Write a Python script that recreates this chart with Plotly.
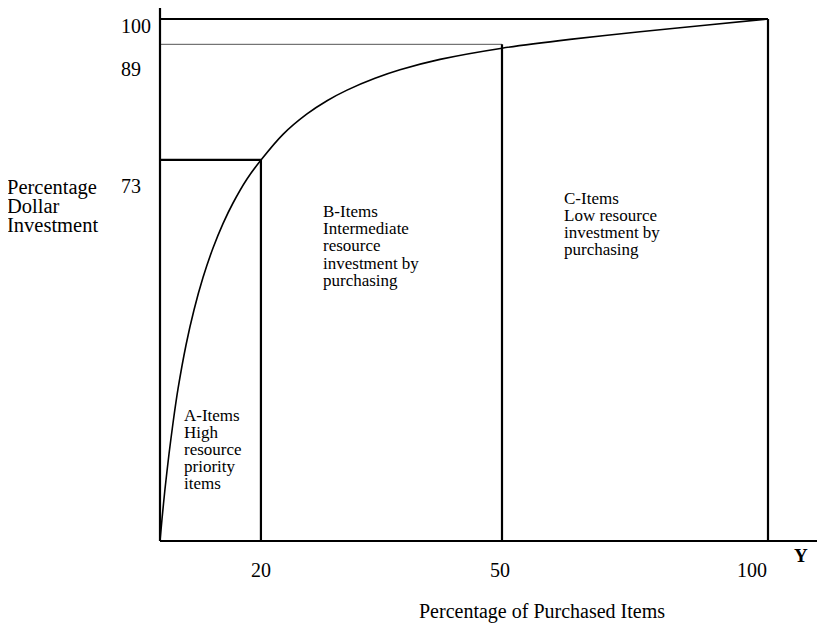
import plotly.graph_objects as go

# ---------------- data ----------------
# Cumulative (Pareto) curve, in the chart's drawn units (0..100 on both axes)
curve_x = [0, 0.33, 0.82, 1.48, 2.14, 2.96, 4.28, 5.59, 7.07, 8.72, 10.36, 12.01,
           14.31, 16.61, 20.23, 24.18, 27.47, 30.76, 35.36, 39.47, 46.05, 56.25,
           67.43, 78.95, 89.64, 100]
curve_y = [0, 4.21, 9.96, 16.67, 22.61, 29.12, 37.55, 44.25, 50.46, 56.13, 60.80,
           64.75, 69.35, 72.99, 77.91, 81.82, 84.35, 86.38, 88.64, 90.27, 92.26,
           94.41, 96.09, 97.57, 98.81, 100]

# Class boundaries (A, B, C) where they are drawn on the chart
boundary_x = [16.6, 56.25, 100]
boundary_y = [73.0, 95.15, 100]

x_tick_labels = ["20", "50", "100"]
y_tick_labels = ["100", "89", "73"]

class_texts = [
    ["A-Items", "High", "resource", "priority", "items"],
    ["B-Items", "Intermediate", "resource", "investment by", "purchasing"],
    ["C-Items", "Low resource", "investment by", "purchasing"],
]
y_title_lines = ["Percentage", "Dollar", "Investment"]
x_title = "Percentage of Purchased Items"

# ---------------- layout geometry (page pixels) ----------------
OFF = 8                # default page body margin
PAGE_W, PAGE_H = 825, 623
W, H = PAGE_W - OFF, PAGE_H - OFF
PL, PR, PT, PB = 150, 778, 9, 551      # plot area on the page
L, T = PL - OFF, PT - OFF
R, B = W - (PR - OFF), H - (PB - OFF)
PW, PH = PR - PL, PB - PT
X0, X1 = 160, 768      # page pixels of 0 and 100 on x
Y0, Y1 = 541, 19       # page pixels of 0 and 100 on y
ux = 100 / (X1 - X0)
uy = 100 / (Y0 - Y1)
x_range = [-(X0 - PL) * ux, 100 + (PR - X1) * ux]
y_range = [-(PB - Y0) * uy, 100 + (Y1 - PT) * uy]


def px(xp):
    return (xp - PL) / PW


def py(yp):
    return (PB - yp) / PH


FONT = "Liberation Serif, Times New Roman, serif"
BLACK = "#000000"

fig = go.Figure()

# curve
fig.add_trace(go.Scatter(x=curve_x, y=curve_y, mode="lines",
                         line=dict(color=BLACK, width=1.6, shape="spline", smoothing=0.6),
                         hoverinfo="skip", showlegend=False))

# boundaries
for i, (bx, by) in enumerate(zip(boundary_x, boundary_y)):
    hcol, hw = (BLACK, 2.2)
    if i == 1:
        hcol, hw = ("#555555", 1.0)
    fig.add_trace(go.Scatter(x=[0, bx], y=[by, by], mode="lines",
                             line=dict(color=hcol, width=hw),
                             hoverinfo="skip", showlegend=False))
    fig.add_trace(go.Scatter(x=[bx, bx], y=[by, 0], mode="lines",
                             line=dict(color=BLACK, width=2.2),
                             hoverinfo="skip", showlegend=False))

# axes lines (left extends above the frame, bottom extends to the right edge)
shapes = [
    dict(type="line", xref="paper", yref="paper", x0=px(X0), x1=px(X0),
         y0=py(Y0), y1=py(7), line=dict(color=BLACK, width=2.2)),
    dict(type="line", xref="paper", yref="paper", x0=px(X0), x1=px(PAGE_W),
         y0=py(Y0), y1=py(Y0), line=dict(color=BLACK, width=2.2)),
]

ann = []


def txt(text, x, y, size, xanchor="left", bold=False):
    ann.append(dict(text=f"<b>{text}</b>" if bold else text, xref="paper", yref="paper",
                    x=px(x), y=py(y), xanchor=xanchor, yanchor="middle",
                    showarrow=False, borderpad=0,
                    font=dict(family=FONT, size=size, color=BLACK)))


# y tick labels (left aligned)
for lab, yc in zip(y_tick_labels, [26, 68.5, 186]):
    txt(lab, 120, yc, 20)
# x tick labels
for lab, xc in zip(x_tick_labels, [260.5, 500, 752]):
    txt(lab, xc, 570, 20, xanchor="center")

# y title
for lab, yc in zip(y_title_lines, [188, 206, 224.5]):
    txt(lab, 6, yc, 20.5)

# x title and axis letter
txt(x_title, 418, 611, 20)
txt("Y", 801, 555, 19, xanchor="center", bold=True)

# class descriptions
starts = [(183, [415, 432, 449, 466.5, 483.7]),
          (322, [211.7, 228.7, 245.9, 263.2, 280.7]),
          (563, [198.2, 215.7, 232.7, 249.7])]
for lines, (x0, ys) in zip(class_texts, starts):
    for lab, yc in zip(lines, ys):
        txt(lab, x0, yc, 17)

fig.update_layout(
    width=W, height=H,
    margin=dict(l=L, r=R, t=T, b=B),
    paper_bgcolor="white", plot_bgcolor="white",
    xaxis=dict(range=x_range, visible=False, fixedrange=True),
    yaxis=dict(range=y_range, visible=False, fixedrange=True),
    shapes=shapes, annotations=ann, showlegend=False,
)

fig.write_html("out.html")
